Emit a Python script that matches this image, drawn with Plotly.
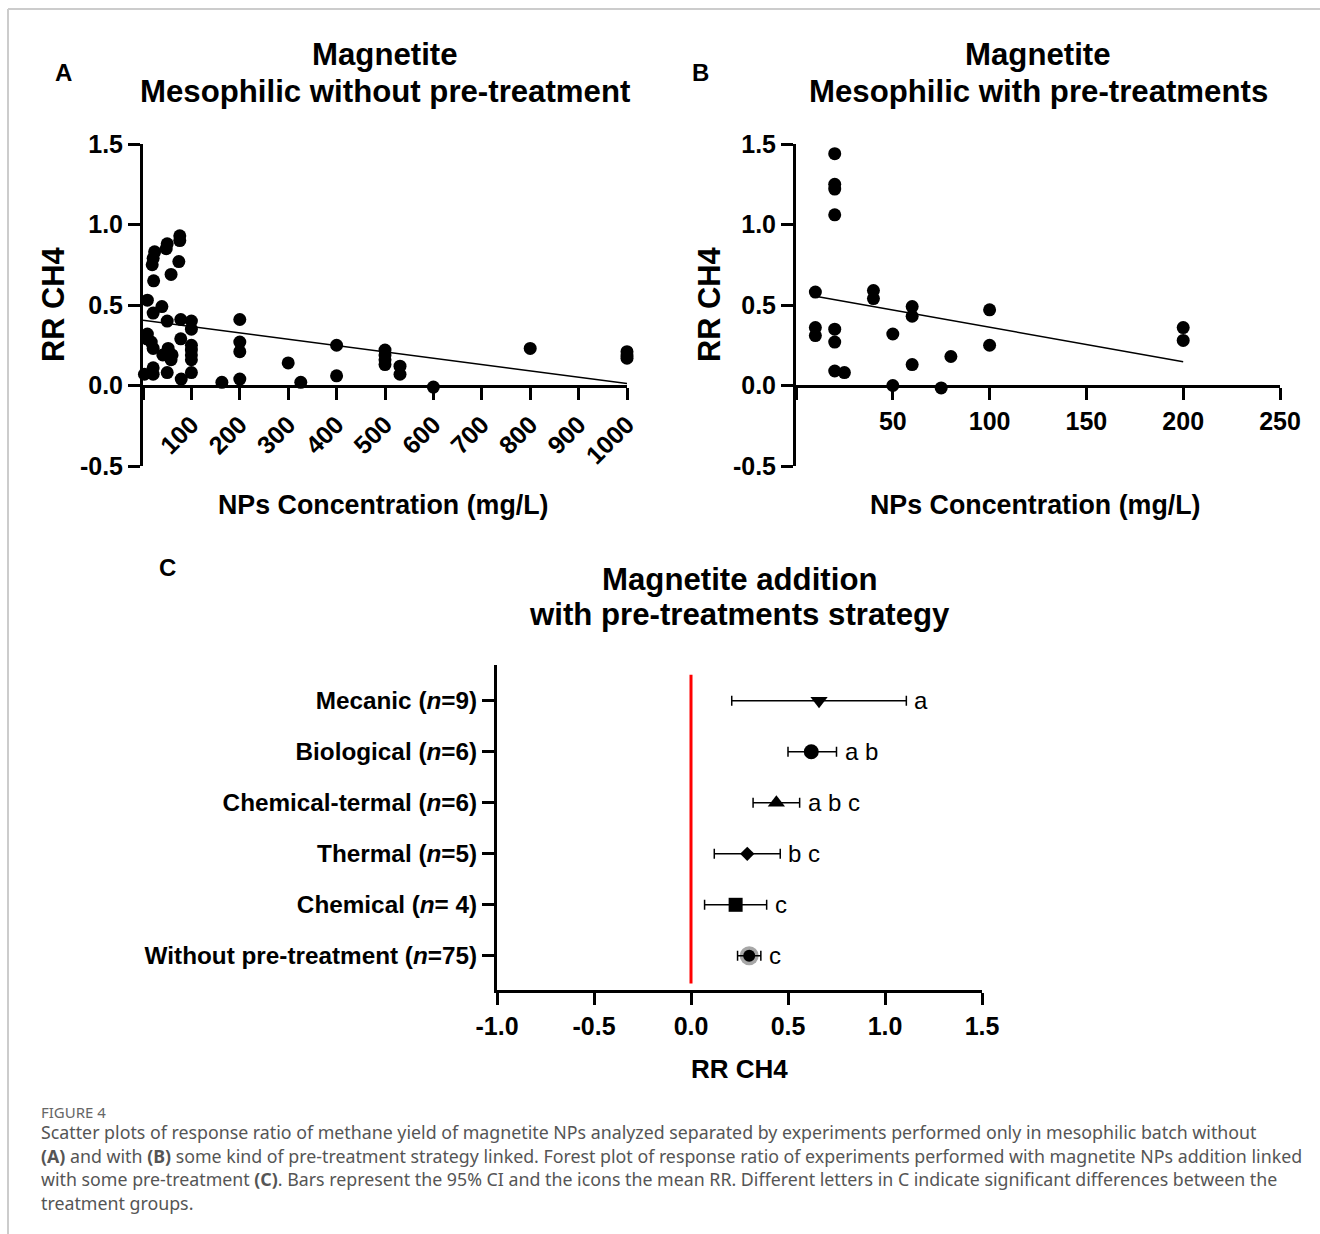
import plotly.graph_objects as go

W, H = 1320, 1234
def fx(px): return px / W
def fy(py): return 1 - py / H

FONT = "Liberation Sans, Arial, sans-serif"

# ---------------- data ----------------
# Panel A: mesophilic without pre-treatment
conc_a = [76, 76, 50, 48, 24, 21, 19, 74, 58, 22, 9, 39, 21, 50, 78, 100, 100, 9, 8, 17,
          21, 78, 52, 41, 58, 60, 100, 100, 100, 100, 3, 21, 21, 50, 79, 100, 163, 200, 200, 200,
          200, 300, 326, 400, 400, 500, 500, 500, 500, 531, 531, 600, 800, 1000, 1000, 1000]
rr_a = [0.93, 0.90, 0.88, 0.85, 0.83, 0.79, 0.75, 0.77, 0.69, 0.65, 0.53, 0.49, 0.45, 0.40, 0.41, 0.40, 0.35, 0.32, 0.29, 0.27,
        0.23, 0.29, 0.23, 0.19, 0.16, 0.19, 0.25, 0.22, 0.19, 0.16, 0.07, 0.11, 0.07, 0.08, 0.04, 0.08, 0.02, 0.41, 0.27, 0.21,
        0.04, 0.14, 0.02, 0.25, 0.06, 0.22, 0.19, 0.16, 0.13, 0.12, 0.07, -0.01, 0.23, 0.21, 0.19, 0.17]
fit_a_x = [0, 1000]
fit_a_y = [0.405, 0.012]

# Panel B: mesophilic with pre-treatments
conc_b = [20, 20, 20, 20, 10, 10, 10, 20, 20, 20, 25, 40, 40, 50, 50, 60, 60, 60, 75, 80, 100, 100, 200, 200]
rr_b = [1.44, 1.25, 1.22, 1.06, 0.58, 0.36, 0.31, 0.35, 0.27, 0.09, 0.08, 0.59, 0.54, 0.32, 0.0, 0.49, 0.43, 0.13,
        -0.015, 0.18, 0.47, 0.25, 0.36, 0.28]
fit_b_x = [10, 200]
fit_b_y = [0.555, 0.147]

# Panel C: forest plot
groups = ["Mecanic (<i>n</i>=9)", "Biological (<i>n</i>=6)", "Chemical-termal (<i>n</i>=6)",
          "Thermal (<i>n</i>=5)", "Chemical (<i>n</i>= 4)", "Without pre-treatment (<i>n</i>=75)"]
mean_rr = [0.66, 0.62, 0.44, 0.29, 0.23, 0.30]
ci_low = [0.21, 0.50, 0.32, 0.12, 0.07, 0.24]
ci_high = [1.11, 0.75, 0.56, 0.46, 0.39, 0.36]
letters = ["a", "a b", "a b c", "b c", "c", "c"]
symbols = ["triangle-down", "circle", "triangle-up", "diamond", "square", "circle"]
marker_sizes = [15, 15, 15, 11, 14, 12]

tick_a = [0, 100, 200, 300, 400, 500, 600, 700, 800, 900, 1000]
tick_b = [0, 50, 100, 150, 200, 250]
tick_y = [-0.5, 0.0, 0.5, 1.0, 1.5]
tick_c = [-1.0, -0.5, 0.0, 0.5, 1.0, 1.5]

# ---------------- figure ----------------
fig = go.Figure()

fig.add_trace(go.Scatter(x=fit_a_x, y=fit_a_y, mode="lines", line=dict(color="black", width=1.5),
                         xaxis="x", yaxis="y", showlegend=False, cliponaxis=False))
fig.add_trace(go.Scatter(x=conc_a, y=rr_a, mode="markers", marker=dict(color="black", size=13, line=dict(width=0)),
                         xaxis="x", yaxis="y", showlegend=False, cliponaxis=False))
fig.add_trace(go.Scatter(x=fit_b_x, y=fit_b_y, mode="lines", line=dict(color="black", width=1.5),
                         xaxis="x2", yaxis="y2", showlegend=False, cliponaxis=False))
fig.add_trace(go.Scatter(x=conc_b, y=rr_b, mode="markers", marker=dict(color="black", size=13, line=dict(width=0)),
                         xaxis="x2", yaxis="y2", showlegend=False, cliponaxis=False))

# halo for the "without" group
fig.add_trace(go.Scatter(x=[mean_rr[-1]], y=[groups[-1]], mode="markers",
                         marker=dict(color="rgba(120,120,120,0.65)", size=19, symbol="circle", line=dict(width=0)),
                         xaxis="x3", yaxis="y3", showlegend=False, cliponaxis=False))
fig.add_trace(go.Scatter(
    x=mean_rr, y=groups, mode="markers",
    marker=dict(color="black", size=marker_sizes, symbol=symbols, opacity=1, line=dict(width=0)),
    error_x=dict(type="data", symmetric=False,
                 array=[h - m for h, m in zip(ci_high, mean_rr)],
                 arrayminus=[m - l for m, l in zip(mean_rr, ci_low)],
                 color="black", thickness=1.5, width=5),
    xaxis="x3", yaxis="y3", showlegend=False, cliponaxis=False))

bold_tick = dict(family=FONT, size=25, color="black", weight="bold")
axis_common = dict(showline=True, linewidth=3, linecolor="black", ticks="outside", ticklen=12,
                   tickwidth=3, tickcolor="black", showgrid=False, zeroline=False, tickfont=bold_tick,
                   automargin=False)

fig.update_layout(
    template="none",
    width=W, height=H, margin=dict(l=0, r=0, t=0, b=0, pad=0), autosize=False,
    paper_bgcolor="white", plot_bgcolor="rgba(0,0,0,0)",
    xaxis=dict(domain=[fx(143), fx(627)], range=[0, 1000], anchor="free", position=fy(386),
               tickvals=tick_a, ticktext=[""] + [str(v) for v in tick_a[1:]], tickangle=-45, **axis_common),
    yaxis=dict(domain=[fy(466), fy(144)], range=[-0.5, 1.5], anchor="x",
               tickvals=tick_y, ticktext=[f"{v:.1f}" for v in tick_y], **axis_common),
    xaxis2=dict(domain=[fx(796), fx(1280)], range=[0, 250], anchor="free", position=fy(386),
                tickvals=tick_b, ticktext=[""] + [str(v) for v in tick_b[1:]], **axis_common),
    yaxis2=dict(domain=[fy(466), fy(144)], range=[-0.5, 1.5], anchor="x2",
                tickvals=tick_y, ticktext=[f"{v:.1f}" for v in tick_y], **axis_common),
    xaxis3=dict(domain=[fx(497), fx(982)], range=[-1.0, 1.5], anchor="y3",
                tickvals=tick_c, ticktext=[f"{v:.1f}" for v in tick_c], **axis_common),
    yaxis3=dict(domain=[fy(990), fy(665)], anchor="x3", type="category",
                categoryorder="array", categoryarray=groups[::-1], range=[-0.67, 5.7],
                **axis_common),
)
fig.update_yaxes(tickfont=dict(family=FONT, size=24.3, color="black", weight="bold"), selector=dict(anchor="x3"))

# red reference line at RR = 0
fig.add_shape(type="line", xref="x3", yref="y3 domain", x0=0, x1=0, y0=0.02, y1=0.97,
              line=dict(color="#ff0000", width=3))

# letters
for g, hi, lt in zip(groups, ci_high, letters):
    fig.add_annotation(x=hi, y=g, xref="x3", yref="y3", text=lt, showarrow=False,
                       xanchor="left", xshift=6, font=dict(family=FONT, size=24, color="black"))

# frame
fig.add_shape(type="line", xref="paper", yref="paper", x0=fx(8), x1=1, y0=fy(9), y1=fy(9),
              line=dict(color="#cccccc", width=2))
fig.add_shape(type="line", xref="paper", yref="paper", x0=fx(8), x1=fx(8), y0=fy(9), y1=0,
              line=dict(color="#cccccc", width=2))

def ann(x, y, text, size, bold=True, angle=0, color="black", xanchor="center", family=FONT):
    fig.add_annotation(x=fx(x), y=fy(y), xref="paper", yref="paper", text=text, showarrow=False,
                       xanchor=xanchor, yanchor="middle", textangle=angle,
                       font=dict(family=family, size=size, color=color,
                                 weight="bold" if bold else "normal"))

# panel letters
ann(63, 72, "A", 24)
ann(701, 72, "B", 24)
ann(167, 567, "C", 24)
# titles
ann(385, 55, "Magnetite", 31.2)
ann(385, 91, "Mesophilic without pre-treatment", 31.2)
ann(1038, 55, "Magnetite", 31.2)
ann(1038, 91, "Mesophilic with pre-treatments", 31.2)
ann(740, 579, "Magnetite addition", 31.2)
ann(740, 614, "with pre-treatments strategy", 31.2)
# axis titles
ann(53, 305, "RR CH4", 30.8, angle=-90)
ann(709, 305, "RR CH4", 30.8, angle=-90)
ann(383, 505, "NPs Concentration (mg/L)", 26.8)
ann(1035, 505, "NPs Concentration (mg/L)", 26.8)
ann(740, 1069, "RR CH4", 26)

# caption
CAP = "Noto Sans, Open Sans, sans-serif"
ann(39, 1112, "FIGURE 4", 15, bold=False, color="#666666", xanchor="left", family=CAP)
cap_lines = [
    "Scatter plots of response ratio of methane yield of magnetite NPs analyzed separated by experiments performed only in mesophilic batch without",
    "<b>(A)</b> and with <b>(B)</b> some kind of pre-treatment strategy linked. Forest plot of response ratio of experiments performed with magnetite NPs addition linked",
    "with some pre-treatment <b>(C)</b>. Bars represent the 95% CI and the icons the mean RR. Different letters in C indicate significant differences between the",
    "treatment groups.",
]
for i, line in enumerate(cap_lines):
    ann(39, 1132 + i * 23.7, line, 17.8, bold=False, color="#555555", xanchor="left", family=CAP)

fig.write_html("out.html", config={"displayModeBar": False},
               post_script="document.body.style.margin='0px';document.body.style.overflow='hidden';")
